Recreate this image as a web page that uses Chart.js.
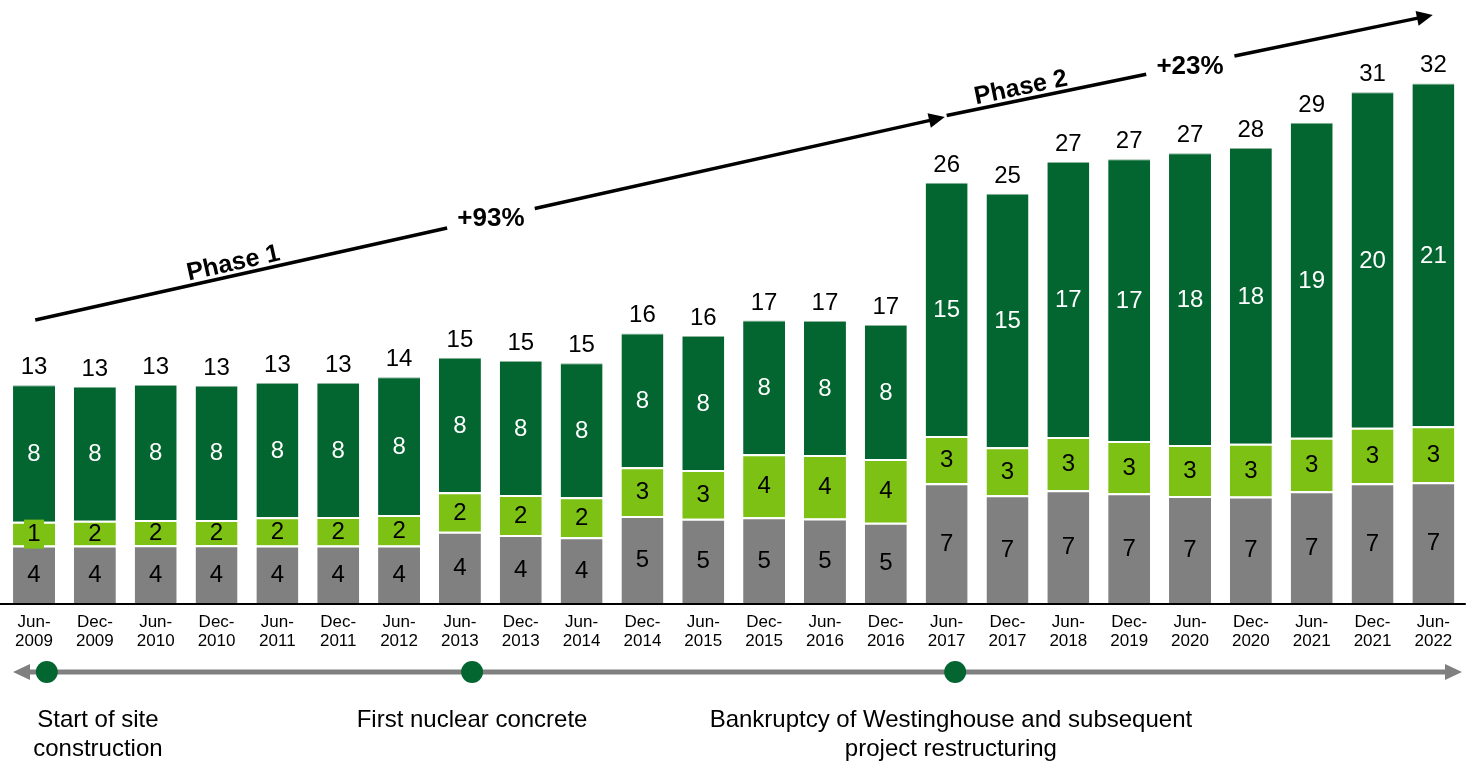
<!DOCTYPE html>
<html>
<head>
<meta charset="utf-8">
<script src="https://cdn.jsdelivr.net/npm/chart.js@4.4.1/dist/chart.umd.min.js"></script>
<style>
  html, body { margin: 0; padding: 0; background: #fff; }
  #wrap { width: 1471px; height: 763px; position: relative; }
</style>
</head>
<body>
<div id="wrap"><canvas id="chart"></canvas></div>
<script>
const categories = ['Jun-2009', 'Dec-2009', 'Jun-2010', 'Dec-2010', 'Jun-2011', 'Dec-2011', 'Jun-2012',
  'Jun-2013', 'Dec-2013', 'Jun-2014', 'Dec-2014', 'Jun-2015', 'Dec-2015', 'Jun-2016', 'Dec-2016',
  'Jun-2017', 'Dec-2017', 'Jun-2018', 'Dec-2019', 'Jun-2020', 'Dec-2020', 'Jun-2021', 'Dec-2021', 'Jun-2022'];

// bottom (grey), middle (light green), top (dark green)
const greyValues = [3.5, 3.5, 3.52, 3.52, 3.5, 3.5, 3.5, 4.35, 4.15, 4.01, 5.30, 5.14, 5.23, 5.16, 4.90,
  7.30, 6.57, 6.87, 6.69, 6.52, 6.5, 6.81, 7.30, 7.36];
const lightValues = [1.46, 1.52, 1.54, 1.54, 1.73, 1.74, 1.87, 2.40, 2.44, 2.44, 2.97, 2.97, 3.84, 3.86, 3.88,
  2.88, 2.93, 3.25, 3.19, 3.11, 3.21, 3.27, 3.39, 3.41];
const darkValues = [8.31, 8.17, 8.23, 8.19, 8.19, 8.17, 8.40, 8.21, 8.17, 8.17, 8.17, 8.17, 8.15, 8.17, 8.17,
  15.45, 15.45, 16.77, 17.18, 17.80, 18.03, 19.21, 20.45, 20.91];

// growth arrows: [category index, value] end points, gap where the % label sits
const phaseArrows = [
  { from: [0.02, 17.26], to: [14.97, 29.63], gap: [6.79, 8.23], name: 'Phase 1', nameAt: 3.32, pct: '+93%', pctAt: [7.51, 23.41] },
  { from: [15.0, 29.73], to: [22.99, 35.85], gap: [18.28, 19.73], name: 'Phase 2', nameAt: 16.26, pct: '+23%', pctAt: [19.0, 32.68] }
];

const milestoneAt = [0.21, 7.2, 15.14];
const milestoneTextAt = [1.05, 7.2, 15.07];
const milestoneText = [
  ['Start of site', 'construction'],
  ['First nuclear concrete'],
  ['Bankruptcy of Westinghouse and subsequent', 'project restructuring']
];

const DARK = '#036631';
const LIGHT = '#7cc114';
const GREY = '#808080';
const FONT = "'Liberation Sans', Arial, sans-serif";

const overlay = {
  id: 'overlay',
  afterDatasetsDraw(chart) {
    const ctx = chart.ctx;
    const xs = chart.scales.x, ys = chart.scales.y;
    const area = chart.chartArea;
    ctx.save();

    // segment labels
    ctx.font = '24px ' + FONT;
    ctx.textAlign = 'center';
    ctx.textBaseline = 'middle';
    chart.data.datasets.forEach((ds, di) => {
      const meta = chart.getDatasetMeta(di);
      meta.data.forEach((bar, i) => {
        const cy = (bar.y + bar.base) / 2;
        const h = bar.base - bar.y;
        if (di === 1 && h < 24.5) {
          ctx.fillStyle = LIGHT;
          ctx.fillRect(bar.x - 10, cy - 14, 20, 29);
        }
        ctx.fillStyle = di === 2 ? '#fff' : '#000';
        ctx.fillText(String(Math.round(ds.data[i])), bar.x, cy + 1);
      });
    });

    // totals
    ctx.fillStyle = '#000';
    ctx.textBaseline = 'alphabetic';
    const topMeta = chart.getDatasetMeta(2);
    topMeta.data.forEach((bar, i) => {
      const total = greyValues[i] + lightValues[i] + darkValues[i];
      ctx.fillText(String(Math.round(total)), bar.x, bar.y - 11);
    });

    // x axis line
    ctx.strokeStyle = '#000';
    ctx.lineWidth = 2;
    ctx.beginPath();
    ctx.moveTo(0, area.bottom + 1);
    ctx.lineTo(area.right + 2, area.bottom + 1);
    ctx.stroke();

    // category labels
    ctx.font = '17px ' + FONT;
    ctx.textBaseline = 'middle';
    categories.forEach((c, i) => {
      const x = xs.getPixelForValue(i);
      const parts = c.split('-');
      ctx.fillText(parts[0] + '-', x, area.bottom + 19);
      ctx.fillText(parts[1], x, area.bottom + 38);
    });

    // timeline
    const ty = area.bottom + 69;
    const lx = xs.getPixelForValue(-0.345), rx = xs.getPixelForValue(23.47);
    ctx.strokeStyle = GREY;
    ctx.fillStyle = GREY;
    ctx.lineWidth = 5;
    ctx.beginPath();
    ctx.moveTo(lx + 15, ty);
    ctx.lineTo(rx - 15, ty);
    ctx.stroke();
    ctx.beginPath();
    ctx.moveTo(lx, ty); ctx.lineTo(lx + 17, ty - 8); ctx.lineTo(lx + 17, ty + 8); ctx.closePath();
    ctx.fill();
    ctx.beginPath();
    ctx.moveTo(rx, ty); ctx.lineTo(rx - 17, ty - 8); ctx.lineTo(rx - 17, ty + 8); ctx.closePath();
    ctx.fill();

    ctx.fillStyle = DARK;
    milestoneAt.forEach(m => {
      ctx.beginPath();
      ctx.arc(xs.getPixelForValue(m), ty, 11, 0, Math.PI * 2);
      ctx.fill();
    });

    ctx.fillStyle = '#000';
    ctx.font = '24px ' + FONT;
    milestoneText.forEach((lines, k) => {
      const x = xs.getPixelForValue(milestoneTextAt[k]);
      lines.forEach((t, j) => ctx.fillText(t, x, area.bottom + 117 + j * 29));
    });

    // phase arrows
    phaseArrows.forEach(a => {
      const px = v => xs.getPixelForValue(v);
      const valAt = idx => a.from[1] + (a.to[1] - a.from[1]) * (idx - a.from[0]) / (a.to[0] - a.from[0]);
      const p0 = [px(a.from[0]), ys.getPixelForValue(a.from[1])];
      const p1 = [px(a.to[0]), ys.getPixelForValue(a.to[1])];
      const ang = Math.atan2(p1[1] - p0[1], p1[0] - p0[0]);
      const g0 = [px(a.gap[0]), ys.getPixelForValue(valAt(a.gap[0]))];
      const g1 = [px(a.gap[1]), ys.getPixelForValue(valAt(a.gap[1]))];
      const headLen = 16;
      const hb = [p1[0] - headLen * Math.cos(ang), p1[1] - headLen * Math.sin(ang)];

      ctx.strokeStyle = '#000';
      ctx.lineWidth = 3.5;
      ctx.beginPath();
      ctx.moveTo(p0[0], p0[1]); ctx.lineTo(g0[0], g0[1]);
      ctx.moveTo(g1[0], g1[1]); ctx.lineTo(hb[0] + 2 * Math.cos(ang), hb[1] + 2 * Math.sin(ang));
      ctx.stroke();

      ctx.fillStyle = '#000';
      ctx.beginPath();
      ctx.moveTo(p1[0], p1[1]);
      ctx.lineTo(hb[0] + 7.5 * Math.sin(ang), hb[1] - 7.5 * Math.cos(ang));
      ctx.lineTo(hb[0] - 7.5 * Math.sin(ang), hb[1] + 7.5 * Math.cos(ang));
      ctx.closePath();
      ctx.fill();

      // rotated phase name sitting on the line
      const nx = px(a.nameAt), ny = ys.getPixelForValue(valAt(a.nameAt));
      ctx.save();
      ctx.translate(nx, ny);
      ctx.rotate(ang);
      ctx.font = 'bold 25px ' + FONT;
      ctx.textBaseline = 'alphabetic';
      ctx.fillText(a.name, 0, -5);
      ctx.restore();

      ctx.font = 'bold 26px ' + FONT;
      ctx.textBaseline = 'middle';
      ctx.fillText(a.pct, px(a.pctAt[0]), ys.getPixelForValue(a.pctAt[1]));
    });

    ctx.restore();
  }
};

const ctx = document.getElementById('chart').getContext('2d');
new Chart(ctx, {
  type: 'bar',
  data: {
    labels: categories,
    datasets: [
      { data: greyValues, backgroundColor: GREY, borderColor: '#fff', borderWidth: { top: 2, left: 0, right: 0, bottom: 0 }, borderSkipped: false },
      { data: lightValues, backgroundColor: LIGHT, borderColor: '#fff', borderWidth: { top: 2, left: 0, right: 0, bottom: 0 }, borderSkipped: false },
      { data: darkValues, backgroundColor: DARK, borderColor: '#8fb59c', borderWidth: { top: 1, left: 0, right: 0, bottom: 0 }, borderSkipped: false }
    ]
  },
  options: {
    responsive: true,
    maintainAspectRatio: false,
    animation: false,
    layout: { padding: { left: 3.6, right: 7.2, top: 12.6, bottom: 160 } },
    datasets: { bar: { barPercentage: 0.69, categoryPercentage: 1 } },
    plugins: { legend: { display: false }, tooltip: { enabled: false } },
    scales: {
      x: { stacked: true, display: false },
      y: { stacked: true, display: false, min: 0, max: 36 }
    }
  },
  plugins: [overlay]
});
</script>
</body>
</html>
